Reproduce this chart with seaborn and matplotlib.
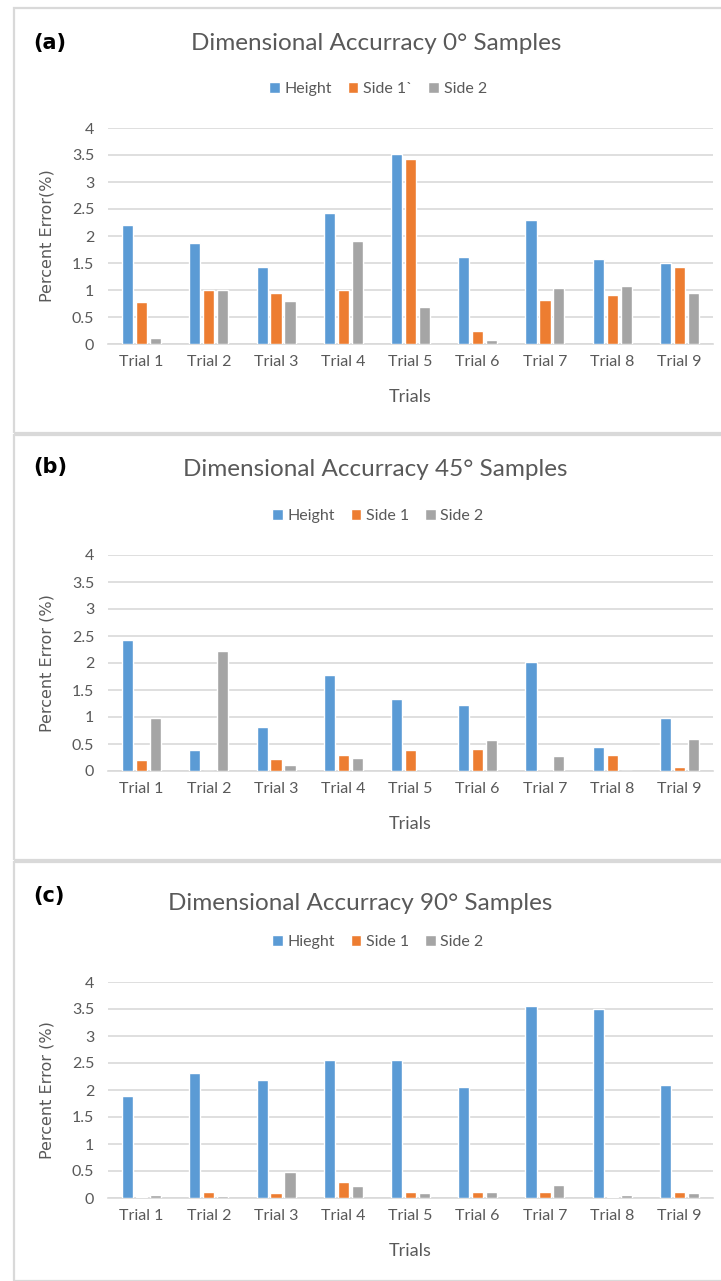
import matplotlib
matplotlib.use("Agg")
import matplotlib.pyplot as plt
import seaborn as sns
import pandas as pd
from matplotlib.patches import Rectangle

sns.set_theme(style="white")
plt.rcParams['font.family'] = ['Lato', 'DejaVu Sans']

trials = ["Trial 1", "Trial 2", "Trial 3", "Trial 4", "Trial 5",
          "Trial 6", "Trial 7", "Trial 8", "Trial 9"]

# Panel (a) 0°
a_height = [2.20, 1.87, 1.43, 2.42, 3.52, 1.62, 2.30, 1.58, 1.50]
a_side1 = [0.77, 1.00, 0.95, 1.00, 3.43, 0.25, 0.82, 0.90, 1.43]
a_side2 = [0.12, 1.00, 0.80, 1.90, 0.68, 0.08, 1.03, 1.07, 0.95]
a_labels = ["Height", "Side 1`", "Side 2"]

# Panel (b) 45°
b_height = [2.43, 0.38, 0.82, 1.77, 1.33, 1.23, 2.02, 0.45, 0.98]
b_side1 = [0.20, 0.00, 0.22, 0.30, 0.38, 0.40, 0.00, 0.30, 0.07]
b_side2 = [0.98, 2.23, 0.12, 0.25, 0.00, 0.57, 0.27, 0.00, 0.60]
b_labels = ["Height", "Side 1", "Side 2"]

# Panel (c) 90°
c_height = [1.89, 2.32, 2.19, 2.55, 2.55, 2.05, 3.55, 3.50, 2.10]
c_side1 = [0.02, 0.12, 0.10, 0.30, 0.12, 0.12, 0.12, 0.02, 0.12]
c_side2 = [0.06, 0.04, 0.48, 0.22, 0.10, 0.12, 0.24, 0.06, 0.10]
c_labels = ["Hieght", "Side 1", "Side 2"]

titles = ["Dimensional Accurracy 0° Samples",
          "Dimensional Accurracy 45° Samples",
          "Dimensional Accurracy 90° Samples"]
tags = ["(a)", "(b)", "(c)"]
ylabels = ["Percent Error(%)", "Percent Error (%)", "Percent Error (%)"]
yticks = [0, 0.5, 1, 1.5, 2, 2.5, 3, 3.5, 4]
ytick_labels = ["0", "0.5", "1", "1.5", "2", "2.5", "3", "3.5", "4"]

colors = ["#5B9BD5", "#ED7D31", "#A5A5A5"]
TXT = "#595959"
GRID = "#D9D9D9"

W, H = 721, 1281
fig = plt.figure(figsize=(W / 100, H / 100), dpi=100)
fig.patch.set_facecolor("white")

def fx(px):
    return px / W

def fy(py):
    return 1 - py / H

panels = [
    (a_height, a_side1, a_side2, a_labels),
    (b_height, b_side1, b_side2, b_labels),
    (c_height, c_side1, c_side2, c_labels),
]
# pixel layout: (frame top, frame bottom, axis top, axis bottom, title y, legend y, tag y, title x)
layout = [
    (8, 433, 128, 344, 43, 89, 43, 376),
    (435, 860, 555, 771, 469, 516, 467, 375),
    (862, 1281, 982, 1198, 904, 942, 896, 360),
]

# frames
for (ftop, fbot, *_rest) in layout:
    fig.patches.append(Rectangle((fx(14), fy(fbot)), fx(730) - fx(14), fy(ftop) - fy(fbot),
                                 transform=fig.transFigure, fill=False,
                                 edgecolor=GRID, linewidth=1.6, zorder=0))

for i, ((h, s1, s2, labels), (ftop, fbot, atop, abot, ty, ly, tagy, tx)) in enumerate(zip(panels, layout)):
    df = pd.DataFrame({
        "Trial": trials * 3,
        "Value": h + s1 + s2,
        "Series": [labels[0]] * 9 + [labels[1]] * 9 + [labels[2]] * 9,
    })
    ax = fig.add_axes([fx(108), fy(abot), fx(713) - fx(108), fy(atop) - fy(abot)])
    sns.barplot(data=df, x="Trial", y="Value", hue="Series", hue_order=labels,
                order=trials, palette=colors, width=0.62, gap=0.2,
                saturation=1, ax=ax, legend=True)
    for p in ax.patches:
        p.set_zorder(3)
    ax.set_ylim(0, 4)
    ax.set_xlim(-0.5, 8.5)
    ax.set_yticks(yticks)
    ax.set_yticklabels(ytick_labels)
    ax.yaxis.grid(True, color=GRID, linewidth=1.2)
    ax.set_axisbelow(True)
    for sp in ["top", "right", "left"]:
        ax.spines[sp].set_visible(False)
    ax.spines["bottom"].set_color(GRID)
    ax.spines["bottom"].set_linewidth(1.2)
    ax.spines["bottom"].set_zorder(1)
    ax.tick_params(axis="both", length=0, labelsize=11.5, colors=TXT)
    ax.tick_params(axis="x", pad=8)
    ax.tick_params(axis="y", pad=10)
    ax.set_xlabel("Trials", fontsize=13, color=TXT, labelpad=14)
    ax.set_ylabel(ylabels[i], fontsize=11.5, color=TXT, family=["DejaVu Sans"])
    ax.yaxis.set_label_coords(-0.088, 0.5)

    handles, lbls = ax.get_legend_handles_labels()
    ax.get_legend().remove()
    fig.legend(handles, lbls, loc="center", bbox_to_anchor=(fx(378), fy(ly)),
               ncol=3, frameon=False, fontsize=11.5, labelcolor=TXT,
               handlelength=0.65, handleheight=0.65, handletextpad=0.3,
               columnspacing=1.0)

    fig.text(fx(tx), fy(ty), titles[i], ha="center", va="center",
             fontsize=17.5, color=TXT)
    fig.text(fx(33), fy(tagy), tags[i], ha="left", va="center",
             fontsize=15, fontweight="bold", color="black", family=["DejaVu Sans"])

fig.savefig("out.png", dpi=100, facecolor="white")
